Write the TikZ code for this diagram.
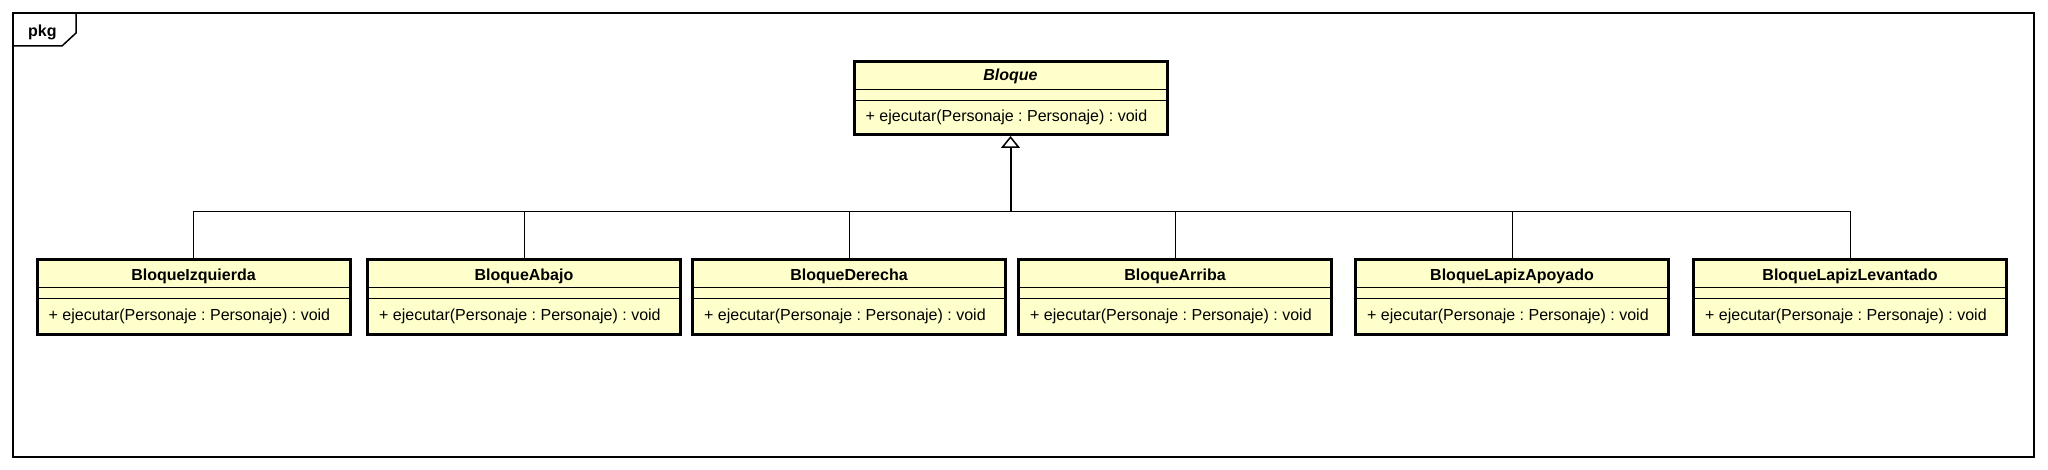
\documentclass[tikz,border=0pt]{standalone}
\usepackage{fontspec}
\setmainfont{Liberation Sans}
\usepackage{xcolor}
\usepackage{tikz}
\usetikzlibrary{arrows.meta, calc}
\definecolor{classfill}{RGB}{255,255,204}
\frenchspacing

\begin{document}
\begin{tikzpicture}[x=1pt, y=-1pt,
  cls/.style={draw, line width=3pt, fill=classfill, minimum width=313pt,
              minimum height=75pt, inner sep=0pt},
  sepline/.style={line width=1pt},
  clsname/.style={anchor=base, inner sep=0pt,
                  font=\fontsize{16}{19}\selectfont\bfseries},
  op/.style={anchor=base west, inner sep=0pt,
             font=\fontsize{16}{19}\selectfont},
  gen/.style={line width=1pt},
]
\useasboundingbox (0,0) rectangle (2048,470);

%% Package frame
\draw[line width=1.5pt] (13,13) rectangle (2034,457);
\draw[line width=1.5pt] (13,46) -- (62,46) -- (76,33) -- (76,13);
\node[op, font=\fontsize{16}{19}\selectfont\bfseries] (pkg) at (28,37) {pkg};

%% Abstract parent
\node[cls, minimum height=73pt] (bloque) at (1010.5,98) {};
\draw[sepline] ($(bloque.north west)+(0,29.5)$) -- ($(bloque.north east)+(0,29.5)$);
\draw[sepline] ($(bloque.north west)+(0,40.5)$) -- ($(bloque.north east)+(0,40.5)$);
\node[clsname, font=\fontsize{16}{19}\selectfont\bfseries\itshape] (bloquename)
  at ($(bloque.north)+(0,20.2)$) {Bloque};
\node[op] (bloqueop) at ($(bloque.north west)+(13,61.8)$)
  {+ ejecutar(Personaje : Personaje) : void};

%% Subclasses
\foreach \x/\n/\t in {193.5/izquierda/BloqueIzquierda, 524/abajo/BloqueAbajo,
                      849/derecha/BloqueDerecha, 1175/arriba/BloqueArriba,
                      1512/apoyado/BloqueLapizApoyado, 1850/levantado/BloqueLapizLevantado}{
  \node[cls] (\n) at (\x,297) {};
  \draw[sepline] ($(\n.north west)+(0,29.5)$) -- ($(\n.north east)+(0,29.5)$);
  \draw[sepline] ($(\n.north west)+(0,40.5)$) -- ($(\n.north east)+(0,40.5)$);
  \node[clsname] (\n name) at ($(\n.north)+(0,22.2)$) {\t};
  \node[op] (\n op) at ($(\n.north west)+(13,62.2)$)
    {+ ejecutar(Personaje : Personaje) : void};
}

%% Generalization
\coordinate (join) at (1010.5,212);
\foreach \n in {izquierda, abajo, derecha, arriba, apoyado, levantado}{
  \draw[gen] (\n.north) |- (join);
}
\draw[line width=2pt, -{Triangle[open, length=12pt, width=19pt, line width=1.5pt, fill=white]}]
  (join) -- (bloque.south);
\end{tikzpicture}
\end{document}
